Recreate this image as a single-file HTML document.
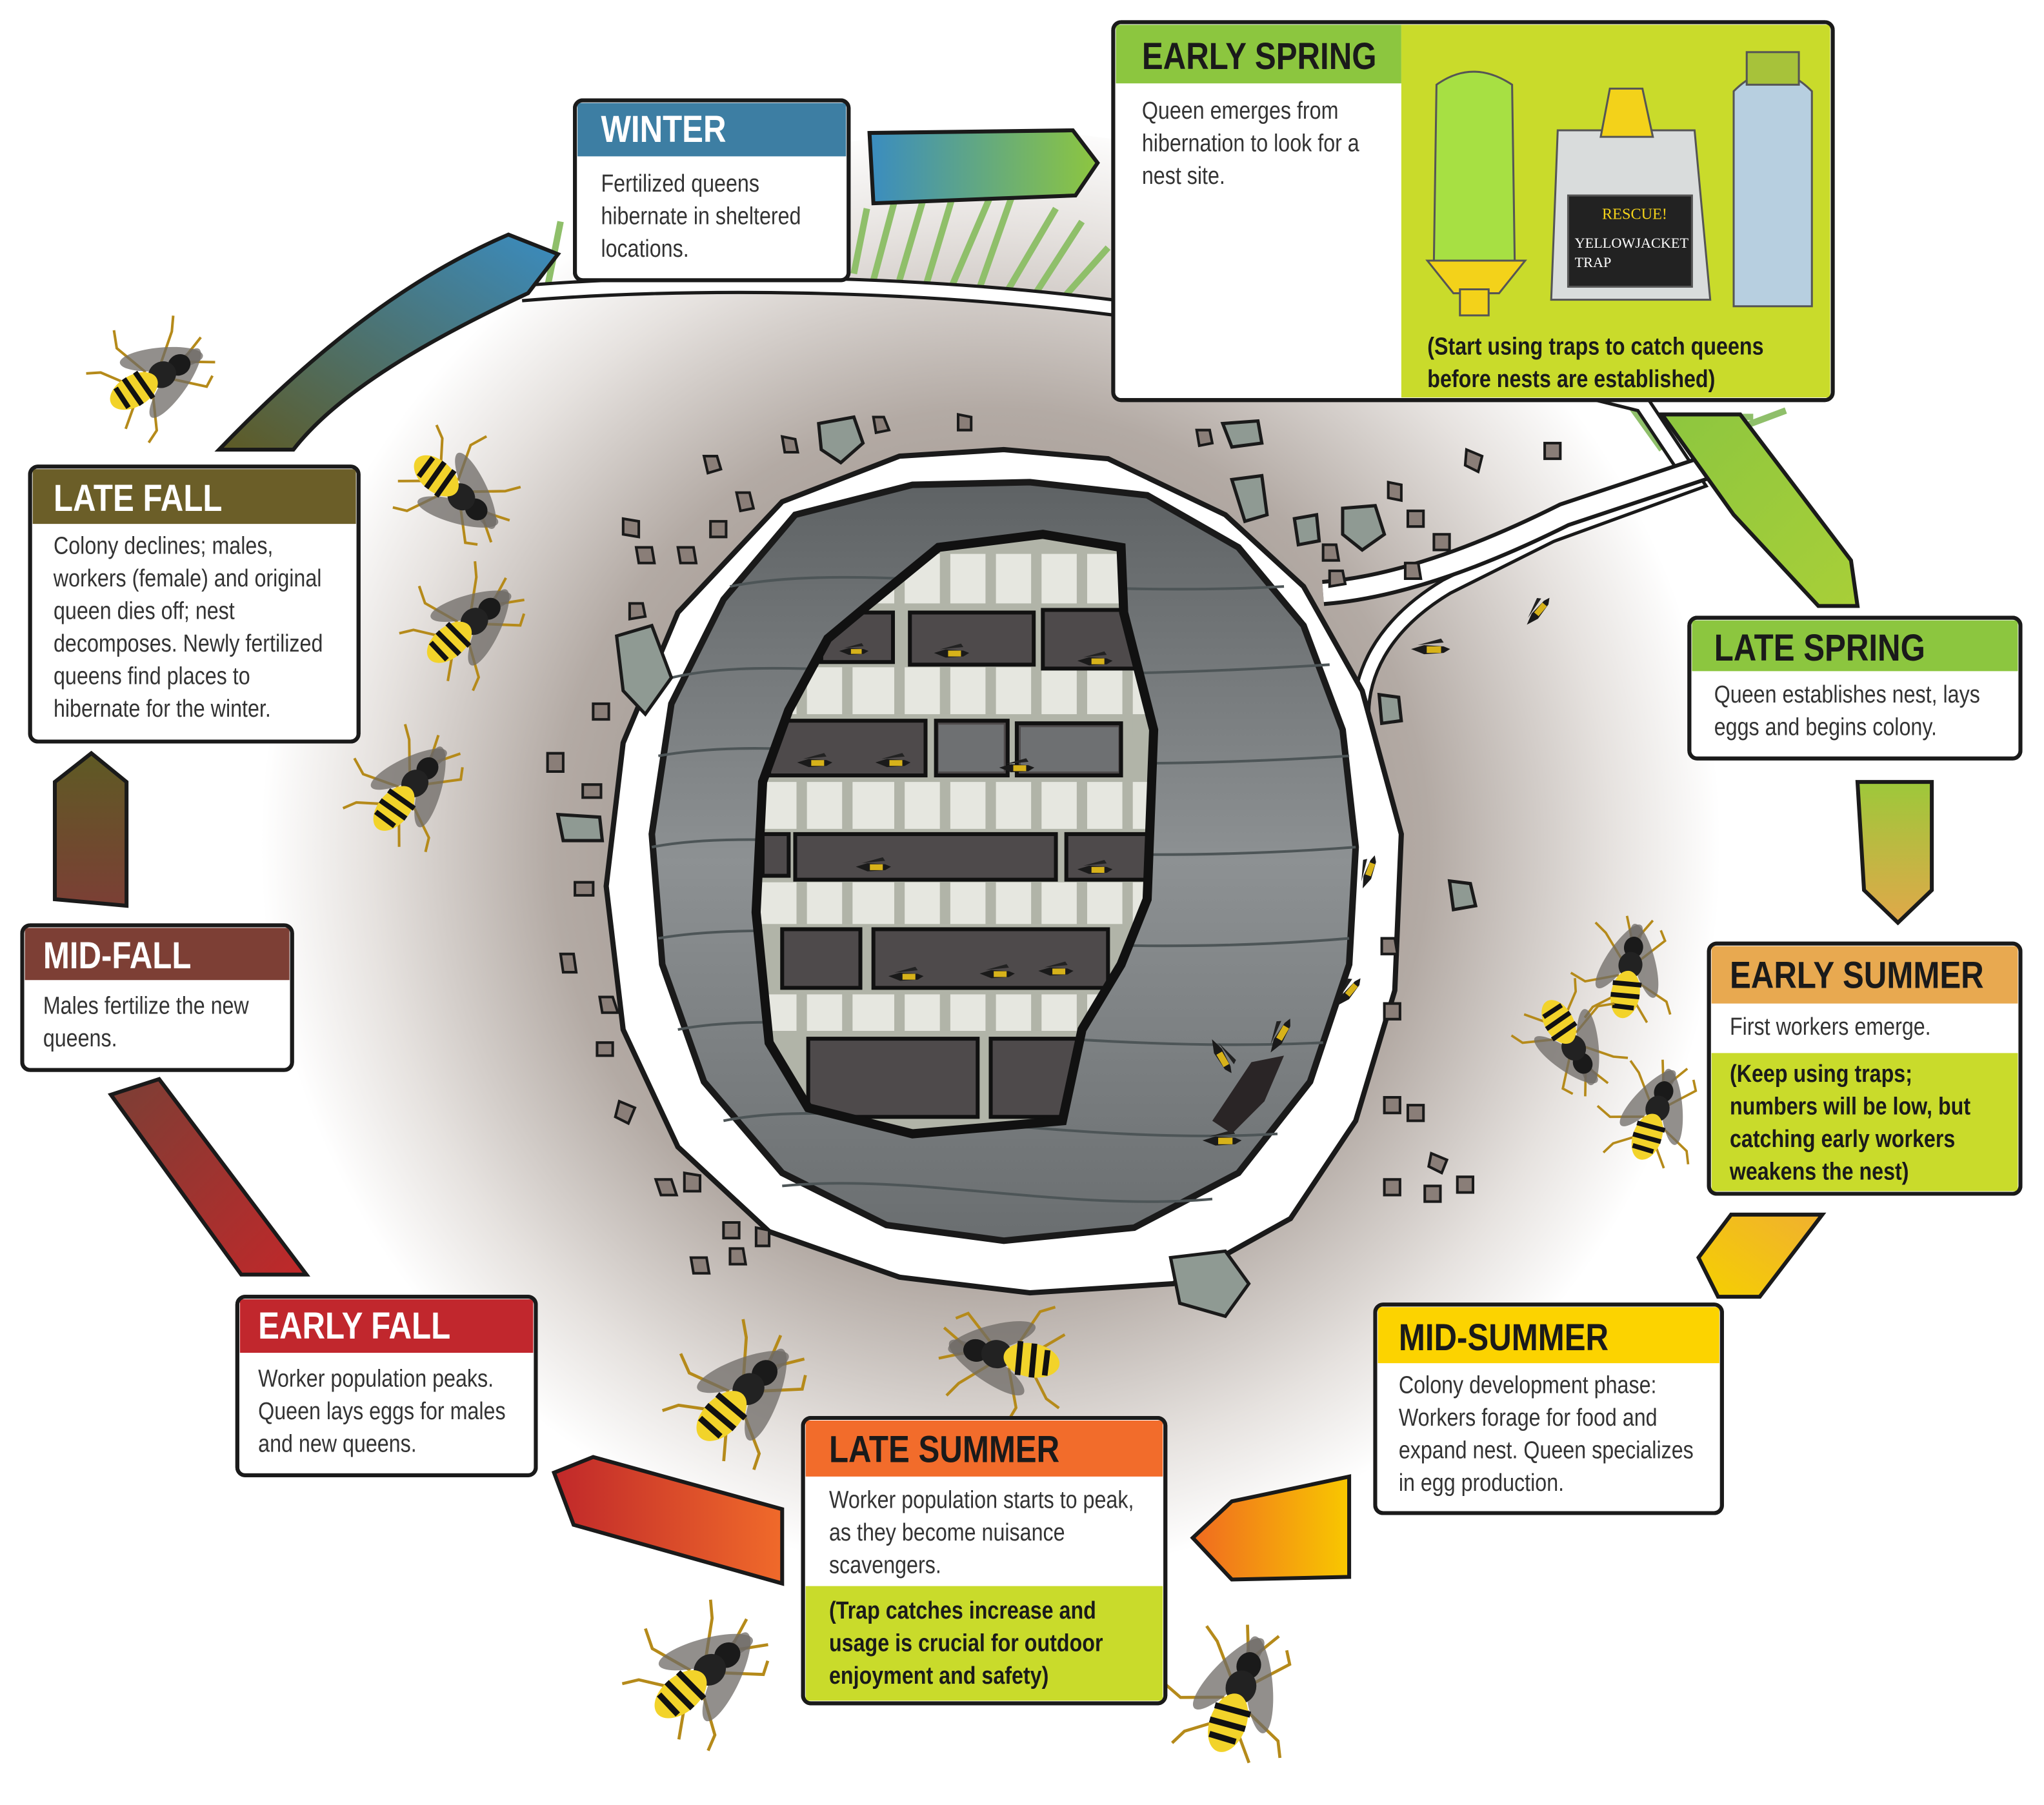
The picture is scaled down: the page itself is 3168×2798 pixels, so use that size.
<!DOCTYPE html>
<html><head><meta charset="utf-8">
<style>
html,body{margin:0;padding:0;background:#fff;}
svg{display:block;}
.h,.hw,.t,.b{transform-box:fill-box;transform-origin:0 50%;transform:scaleX(0.84);}
.h{font-family:"Liberation Sans",sans-serif;font-weight:bold;font-size:29px;fill:#1a1a1a;}
.hw{font-family:"Liberation Sans",sans-serif;font-weight:bold;font-size:29px;fill:#fff;}
.t{font-family:"Liberation Sans",sans-serif;font-size:19px;fill:#333;}
.b{font-family:"Liberation Sans",sans-serif;font-weight:bold;font-size:19px;fill:#1a1a1a;}
</style></head><body>
<svg width="3168" height="2798" viewBox="0 0 1568 1385" xmlns="http://www.w3.org/2000/svg">
<defs>
<radialGradient id="bg" cx="760" cy="650" r="560" gradientUnits="userSpaceOnUse">
<stop offset="0" stop-color="#8a7f78"/><stop offset="0.6" stop-color="#b3aaa4"/><stop offset="0.85" stop-color="#e6e2df"/><stop offset="1" stop-color="#fff"/></radialGradient>
<linearGradient id="nest" x1="0" y1="0" x2="0" y2="1"><stop offset="0" stop-color="#5e6264"/><stop offset="0.5" stop-color="#8d9193"/><stop offset="1" stop-color="#6a6e70"/></linearGradient>
<linearGradient id="g1" x1="0" x2="1"><stop offset="0" stop-color="#3a8cc0"/><stop offset="1" stop-color="#8dc63f"/></linearGradient>
<linearGradient id="g2" x1="0" y1="0" x2="1" y2="1"><stop offset="0" stop-color="#8dc63f"/><stop offset="1" stop-color="#a8cf38"/></linearGradient>
<linearGradient id="g3" x1="0" y1="0" x2="0" y2="1"><stop offset="0" stop-color="#9dc83a"/><stop offset="1" stop-color="#e0a84a"/></linearGradient>
<linearGradient id="g4" x1="1" y1="0" x2="0" y2="1"><stop offset="0" stop-color="#f0b030"/><stop offset="1" stop-color="#f5d000"/></linearGradient>
<linearGradient id="g5" x1="1" x2="0"><stop offset="0" stop-color="#f8c800"/><stop offset="1" stop-color="#f06a20"/></linearGradient>
<linearGradient id="g6" x1="1" x2="0"><stop offset="0" stop-color="#f06a2a"/><stop offset="1" stop-color="#c0282a"/></linearGradient>
<linearGradient id="g7" x1="1" y1="1" x2="0" y2="0"><stop offset="0" stop-color="#c0282a"/><stop offset="1" stop-color="#7b3f35"/></linearGradient>
<linearGradient id="g8" x1="0" y1="1" x2="0" y2="0"><stop offset="0" stop-color="#7b3f35"/><stop offset="1" stop-color="#5e5a24"/></linearGradient>
<linearGradient id="g9" x1="0" y1="1" x2="1" y2="0"><stop offset="0" stop-color="#5e5a24"/><stop offset="1" stop-color="#3a8cc0"/></linearGradient>
<clipPath id="comb"><path d="M720,420 L800,410 L860,420 L862,470 L885,560 L880,690 L860,740 L830,790 L815,860 L700,870 L620,850 L590,800 L580,700 L585,600 L605,545 L635,490 L665,465 Z"/></clipPath>
<symbol id="w" viewBox="-60 -60 120 120">
<g stroke="#b58a1a" stroke-width="2" fill="none"><path d="M-8,-5 L-30,-25 L-38,-20"/><path d="M-5,5 L-28,25 L-35,35"/><path d="M5,8 L15,35 L10,48"/><path d="M8,-8 L20,-35 L30,-40"/><path d="M20,5 L35,25 L45,30"/><path d="M20,-5 L40,-22"/><path d="M-25,0 L-45,-12"/><path d="M-25,2 L-45,10"/></g>
<ellipse cx="-5" cy="-14" rx="32" ry="9" fill="#6e6a66" opacity="0.75" transform="rotate(-25)"/>
<ellipse cx="-5" cy="14" rx="32" ry="9" fill="#6e6a66" opacity="0.75" transform="rotate(25)"/>
<ellipse cx="-20" cy="0" rx="9" ry="8" fill="#1a1a1a"/>
<ellipse cx="-5" cy="0" rx="11" ry="10" fill="#222"/>
<ellipse cx="20" cy="0" rx="20" ry="12" fill="#f2d32a"/>
<g stroke="#111" stroke-width="4"><line x1="10" y1="-12" x2="12" y2="12"/><line x1="20" y1="-12" x2="22" y2="12"/><line x1="30" y1="-9" x2="31" y2="9"/></g>
</symbol>
<symbol id="sw" viewBox="-20 -10 40 20"><path d="M-15,0 L-5,-3 L10,-2 L15,0 L10,3 L-5,4 Z" fill="#1a1a1a"/><path d="M-3,-2 L8,-2 L8,3 L-3,3Z" fill="#d7b21a"/><path d="M-10,-3 L8,-8 L10,-5 Z" fill="#222"/></symbol>
</defs>

<ellipse cx="760" cy="660" rx="610" ry="560" fill="url(#bg)"/>
<g stroke="#8fbf6a" stroke-width="5" fill="none">
<path d="M420,220 L430,170"/><path d="M655,210 L665,160"/><path d="M670,215 L690,140"/><path d="M690,215 L715,130"/><path d="M710,220 L740,120"/><path d="M730,220 L760,150"/><path d="M750,225 L780,140"/><path d="M770,228 L810,160"/><path d="M790,232 L830,170"/><path d="M810,235 L850,190"/><path d="M1250,310 L1275,345"/><path d="M1300,320 L1345,320"/><path d="M1330,330 L1370,315"/></g>
<path d="M400,225 C520,215 700,215 870,238 C1000,250 1100,270 1260,310 L1300,370 L1190,410 L1110,450 C1060,480 1040,520 1045,560" fill="none" stroke="#1a1a1a" stroke-width="14"/>
<path d="M400,225 C520,215 700,215 870,238 C1000,250 1100,270 1260,310 L1300,370 L1190,410 L1110,450 C1060,480 1040,520 1045,560" fill="none" stroke="#fff" stroke-width="9"/>
<path d="M1015,455 C1080,450 1150,420 1200,395 L1320,355" fill="none" stroke="#1a1a1a" stroke-width="20"/>
<path d="M1015,455 C1080,450 1150,420 1200,395 L1320,355" fill="none" stroke="#fff" stroke-width="14"/>
<path d="M600,385 L690,350 L770,345 L850,352 L940,395 L1000,450 L1045,530 L1075,640 L1070,760 L1040,860 L990,935 L900,985 L790,992 L690,980 L590,945 L520,880 L478,790 L465,680 L478,570 L520,470 Z" fill="#fff" stroke="#1a1a1a" stroke-width="4"/>
<path d="M610,395 L700,372 L790,370 L880,380 L950,420 L1000,480 L1030,560 L1040,650 L1035,740 L1005,830 L950,900 L870,942 L770,952 L680,940 L600,900 L540,830 L508,740 L500,640 L515,540 L555,460 Z" fill="url(#nest)" stroke="#1a1a1a" stroke-width="5"/>
<g stroke="#4d5557" stroke-width="2" fill="none">
<path d="M515,520 C600,500 700,530 1020,510"/><path d="M505,580 C620,560 720,600 1035,580"/><path d="M500,650 C600,630 780,670 1040,650"/><path d="M505,720 C620,700 800,740 1035,720"/><path d="M520,790 C620,770 820,810 1015,800"/><path d="M555,860 C650,840 820,880 980,870"/><path d="M600,910 C700,900 820,930 930,920"/><path d="M560,450 C660,430 800,460 985,450"/></g>
<g clip-path="url(#comb)">
<rect x="570" y="400" width="330" height="480" fill="#b1b4a8"/>
<g fill="#e6e7e0"><rect x="580" y="425" width="300" height="38"/><rect x="580" y="512" width="300" height="36"/><rect x="580" y="600" width="300" height="36"/><rect x="580" y="677" width="300" height="32"/><rect x="580" y="763" width="300" height="28"/></g>
<g stroke="#b1b4a8" stroke-width="8"><path d="M615,420 V880 M650,420 V880 M690,420 V880 M725,420 V880 M760,420 V880 M795,420 V880 M830,420 V880 M865,420 V880"/></g>
<g fill="#4e4a4b" stroke="#111" stroke-width="3">
<rect x="630" y="470" width="55" height="38"/><rect x="698" y="470" width="95" height="40"/><rect x="800" y="468" width="80" height="45"/>
<rect x="590" y="553" width="120" height="42"/><rect x="718" y="553" width="55" height="42"/><rect x="780" y="555" width="80" height="40"/>
<rect x="585" y="640" width="20" height="32"/><rect x="610" y="640" width="200" height="35"/><rect x="818" y="640" width="70" height="35"/>
<rect x="600" y="713" width="60" height="45"/><rect x="670" y="713" width="180" height="45"/>
<rect x="620" y="797" width="130" height="60"/><rect x="760" y="797" width="100" height="60"/></g>
<g fill="#6e7072"><rect x="720" y="556" width="50" height="36"/><rect x="783" y="558" width="75" height="34"/></g>
</g>
<path d="M720,420 L800,410 L860,420 L862,470 L885,560 L880,690 L860,740 L830,790 L815,860 L700,870 L620,850 L590,800 L580,700 L585,600 L605,545 L635,490 L665,465 Z" fill="none" stroke="#111" stroke-width="7"/>
<g>
<use href="#sw" x="640" y="492" width="30" height="15"/><use href="#sw" x="710" y="492" width="40" height="18"/><use href="#sw" x="820" y="498" width="40" height="18"/>
<use href="#sw" x="605" y="576" width="40" height="18"/><use href="#sw" x="665" y="576" width="40" height="18"/><use href="#sw" x="760" y="580" width="40" height="18"/>
<use href="#sw" x="650" y="656" width="40" height="18"/><use href="#sw" x="820" y="658" width="40" height="18"/>
<use href="#sw" x="675" y="740" width="40" height="18"/><use href="#sw" x="745" y="738" width="40" height="18"/><use href="#sw" x="790" y="736" width="40" height="18"/>
<use href="#sw" x="1075" y="488" width="45" height="20"/><use href="#sw" x="1160" y="460" width="40" height="18" transform="rotate(-50 1180 469)"/>
<use href="#sw" x="1030" y="660" width="40" height="18" transform="rotate(-70 1050 669)"/><use href="#sw" x="1015" y="752" width="40" height="18" transform="rotate(-50 1035 761)"/>
<use href="#sw" x="915" y="800" width="45" height="20" transform="rotate(60 937 810)"/><use href="#sw" x="960" y="785" width="45" height="20" transform="rotate(-60 982 795)"/><use href="#sw" x="915" y="865" width="45" height="20"/>
</g>
<path d="M930,860 L960,815 L985,810 L970,845 L945,870 Z" fill="#2a2526"/>
<g fill="#8f9a93" stroke="#1a1a1a" stroke-width="2.5">
<path d="M628,325 L655,320 L662,340 L645,355 L630,345Z"/><path d="M945,368 L968,365 L972,395 L955,400Z"/><path d="M1030,390 L1055,388 L1062,410 L1045,422 L1030,410Z"/><path d="M473,488 L500,480 L515,520 L495,548 L478,530Z"/><path d="M898,965 L940,960 L958,985 L940,1010 L905,1000Z"/><path d="M938,325 L965,323 L968,340 L945,343Z"/><path d="M993,398 L1010,395 L1012,415 L996,418Z"/><path d="M428,625 L460,627 L462,645 L432,645Z"/><path d="M1112,676 L1128,678 L1132,695 L1115,698Z"/><path d="M1058,533 L1073,535 L1075,553 L1060,555Z"/>
</g>
<g fill="#8a7e78" stroke="#1a1a1a" stroke-width="2">
<path d="M540,350 l10,0 l3,10 l-10,3Z"/><path d="M565,378 l10,0 l3,12 l-10,2Z"/><path d="M478,398 l12,2 l0,12 l-12,-2Z"/><path d="M488,420 l12,0 l2,12 l-12,0Z"/><path d="M600,335 l10,2 l2,10 l-10,0Z"/><path d="M670,320 l8,0 l4,10 l-10,2Z"/><path d="M735,318 l10,2 l0,10 l-10,0Z"/><path d="M918,330 l10,0 l2,10 l-10,2Z"/><path d="M1125,345 l12,5 l-3,12 l-10,-5Z"/><path d="M1185,340 l12,0 l0,12 l-12,0Z"/><path d="M1065,370 l10,2 l0,12 l-10,-2Z"/><path d="M1080,392 l12,0 l0,12 l-12,0Z"/><path d="M1100,410 l12,0 l0,12 l-12,0Z"/><path d="M1078,432 l10,0 l2,12 l-12,0Z"/><path d="M1015,418 l10,0 l2,12 l-12,0Z"/><path d="M1020,438 l10,0 l2,10 l-12,2Z"/><path d="M455,540 l12,0 l0,12 l-12,0Z"/><path d="M447,602 l14,0 l0,10 l-14,0Z"/><path d="M441,677 l14,0 l0,10 l-14,0Z"/><path d="M430,732 l10,0 l2,14 l-10,0Z"/><path d="M460,765 l10,0 l4,12 l-12,0Z"/><path d="M458,800 l12,0 l0,10 l-12,0Z"/><path d="M475,845 l12,5 l-5,12 l-10,-5Z"/><path d="M503,905 l12,0 l4,12 l-12,0Z"/><path d="M525,900 l12,2 l0,12 l-12,0Z"/><path d="M555,938 l12,0 l0,12 l-12,0Z"/><path d="M580,942 l10,2 l0,12 l-10,0Z"/><path d="M530,965 l12,0 l2,12 l-12,0Z"/><path d="M560,958 l10,0 l2,12 l-12,0Z"/><path d="M1062,842 l12,0 l0,12 l-12,0Z"/><path d="M1080,848 l12,0 l0,12 l-12,0Z"/><path d="M1098,885 l12,5 l-4,10 l-10,-5Z"/><path d="M1062,905 l12,0 l0,12 l-12,0Z"/><path d="M1093,910 l12,0 l0,12 l-12,0Z"/><path d="M1118,903 l12,0 l0,12 l-12,0Z"/><path d="M1062,770 l12,0 l0,12 l-12,0Z"/><path d="M1060,720 l10,0 l2,12 l-12,0Z"/><path d="M420,578 l12,0 l0,14 l-12,0Z"/><path d="M483,463 l10,0 l2,10 l-12,2Z"/><path d="M520,420 l12,0 l2,12 l-12,0Z"/><path d="M545,400 l12,0 l0,12 l-12,0Z"/></g>
<g stroke="#1a1a1a" stroke-width="3">
<path d="M667,102 L823,100 L842,125 L825,150 L670,156 Z" fill="url(#g1)"/>
<path d="M1275,318 L1335,318 L1420,430 L1425,465 L1395,465 L1330,395 Z" fill="url(#g2)"/>
<path d="M1425,600 L1482,600 L1482,683 L1456,708 L1430,683 Z" fill="url(#g3)"/>
<path d="M1328,932 L1398,932 L1350,995 L1318,995 L1303,965 Z" fill="url(#g4)"/>
<path d="M1035,1133 L1035,1210 L945,1212 L915,1180 L945,1152 Z" fill="url(#g5)"/>
<path d="M425,1130 L455,1118 L600,1158 L600,1215 L440,1170 Z" fill="url(#g6)"/>
<path d="M85,840 L122,828 L235,978 L185,978 Z" fill="url(#g7)"/>
<path d="M42,600 L70,578 L97,600 L97,695 L42,690 Z" fill="url(#g8)"/>
<path d="M168,345 C250,260 320,210 390,180 L428,195 L405,225 C330,260 260,300 225,345 Z" fill="url(#g9)"/>
</g>
<use href="#w" x="60" y="230" width="120" height="120" transform="rotate(150 120 290)"/>
<use href="#w" x="290" y="318" width="120" height="120" transform="rotate(220 350 378)"/>
<use href="#w" x="300" y="420" width="120" height="120" transform="rotate(140 360 480)"/>
<use href="#w" x="255" y="545" width="120" height="120" transform="rotate(130 315 605)"/>
<use href="#w" x="890" y="140" width="140" height="140" transform="rotate(120 960 210)"/>
<use href="#w" x="1195" y="690" width="110" height="110" transform="rotate(100 1250 745)"/>
<use href="#w" x="1150" y="745" width="110" height="110" transform="rotate(240 1205 800)"/>
<use href="#w" x="1215" y="800" width="110" height="110" transform="rotate(110 1270 855)"/>
<use href="#w" x="705" y="975" width="130" height="130" transform="rotate(10 770 1040)"/>
<use href="#w" x="500" y="1000" width="140" height="140" transform="rotate(135 570 1070)"/>
<use href="#w" x="470" y="1215" width="140" height="140" transform="rotate(140 540 1285)"/>
<use href="#w" x="880" y="1230" width="140" height="140" transform="rotate(110 950 1300)"/>
<g stroke="#1a1a1a" stroke-width="3">
<rect x="441" y="77" width="210" height="138" rx="6" fill="#fff"/>
<rect x="854" y="17" width="552" height="290" rx="6" fill="#fff"/>
<rect x="1296" y="474" width="254" height="108" rx="6" fill="#fff"/>
<rect x="1311" y="724" width="239" height="192" rx="6" fill="#fff"/>
<rect x="1055" y="1001" width="266" height="160" rx="6" fill="#fff"/>
<rect x="616" y="1088" width="278" height="219" rx="6" fill="#fff"/>
<rect x="182" y="995" width="229" height="137" rx="6" fill="#fff"/>
<rect x="17" y="710" width="207" height="111" rx="6" fill="#fff"/>
<rect x="23" y="358" width="252" height="211" rx="6" fill="#fff"/>
</g>
<g>
<path d="M443,79 H649 V120 H443Z" fill="#3d7ea3"/>
<path d="M856,19 H1075 V64 H856Z" fill="#8cc63f"/>
<path d="M1075,19 H1404 V305 H1075Z" fill="#c9db2b"/>
<path d="M1298,476 H1548 V515 H1298Z" fill="#8cc63f"/>
<path d="M1313,726 H1548 V770 H1313Z" fill="#e8a950"/>
<path d="M1313,808 H1548 V914 H1313Z" fill="#c9db2b"/>
<path d="M1057,1003 H1319 V1046 H1057Z" fill="#fcd300"/>
<path d="M618,1090 H892 V1133 H618Z" fill="#f26c2b"/>
<path d="M618,1217 H892 V1305 H618Z" fill="#c9db2b"/>
<path d="M184,997 H409 V1038 H184Z" fill="#c1272d"/>
<path d="M19,712 H222 V752 H19Z" fill="#7d3f35"/>
<path d="M25,360 H273 V402 H25Z" fill="#6b5e28"/>
</g>
<g stroke="#1a1a1a" stroke-width="3" fill="none">
<rect x="441" y="77" width="210" height="138" rx="6"/><rect x="854" y="17" width="552" height="290" rx="6"/><rect x="1296" y="474" width="254" height="108" rx="6"/><rect x="1311" y="724" width="239" height="192" rx="6"/><rect x="1055" y="1001" width="266" height="160" rx="6"/><rect x="616" y="1088" width="278" height="219" rx="6"/><rect x="182" y="995" width="229" height="137" rx="6"/><rect x="17" y="710" width="207" height="111" rx="6"/><rect x="23" y="358" width="252" height="211" rx="6"/></g>
<g stroke="#555" stroke-width="1.5">
<path d="M1102,65 Q1130,45 1160,65 L1162,200 L1100,200 Z" fill="#a7e043"/>
<path d="M1095,200 H1170 L1150,225 H1115Z" fill="#f3d21a"/><rect x="1120" y="222" width="22" height="20" fill="#f3d21a"/>
<path d="M1195,100 L1300,100 L1312,230 L1190,230 Z" fill="#d9dcdc"/><rect x="1203" y="150" width="95" height="70" fill="#222"/>
<path d="M1235,68 H1260 L1268,105 H1228Z" fill="#f3d21a"/>
<path d="M1330,70 Q1360,40 1390,70 L1390,235 L1330,235 Z" fill="#b7cfe0"/><rect x="1340" y="40" width="40" height="25" fill="#a7c23a"/>
</g>
<text x="1229" y="168" font-family="Liberation Serif,serif" font-size="12" fill="#f3d21a">RESCUE!</text>
<text x="1208" y="190" font-family="Liberation Serif,serif" font-size="11" fill="#fff">YELLOWJACKET</text>
<text x="1208" y="205" font-family="Liberation Serif,serif" font-size="11" fill="#fff">TRAP</text>
<text x="461" y="109" class="hw">WINTER</text>
<text x="461" y="147" class="t">Fertilized queens</text><text x="461" y="172" class="t">hibernate in sheltered</text><text x="461" y="197" class="t">locations.</text>
<text x="876" y="53" class="h">EARLY SPRING</text>
<text x="876" y="91" class="t">Queen emerges from</text><text x="876" y="116" class="t">hibernation to look for a</text><text x="876" y="141" class="t">nest site.</text>
<text x="1095" y="272" class="b">(Start using traps to catch queens</text><text x="1095" y="297" class="b">before nests are established)</text>
<text x="1315" y="507" class="h">LATE SPRING</text>
<text x="1315" y="539" class="t">Queen establishes nest, lays</text><text x="1315" y="564" class="t">eggs and begins colony.</text>
<text x="1327" y="758" class="h">EARLY SUMMER</text>
<text x="1327" y="794" class="t">First workers emerge.</text>
<text x="1327" y="830" class="b">(Keep using traps;</text><text x="1327" y="855" class="b">numbers will be low, but</text><text x="1327" y="880" class="b">catching early workers</text><text x="1327" y="905" class="b">weakens the nest)</text>
<text x="1073" y="1036" class="h">MID-SUMMER</text>
<text x="1073" y="1069" class="t">Colony development phase:</text><text x="1073" y="1094" class="t">Workers forage for food and</text><text x="1073" y="1119" class="t">expand nest. Queen specializes</text><text x="1073" y="1144" class="t">in egg production.</text>
<text x="636" y="1122" class="h">LATE SUMMER</text>
<text x="636" y="1157" class="t">Worker population starts to peak,</text><text x="636" y="1182" class="t">as they become nuisance</text><text x="636" y="1207" class="t">scavengers.</text>
<text x="636" y="1242" class="b">(Trap catches increase and</text><text x="636" y="1267" class="b">usage is crucial for outdoor</text><text x="636" y="1292" class="b">enjoyment and safety)</text>
<text x="198" y="1027" class="hw">EARLY FALL</text>
<text x="198" y="1064" class="t">Worker population peaks.</text><text x="198" y="1089" class="t">Queen lays eggs for males</text><text x="198" y="1114" class="t">and new queens.</text>
<text x="33" y="743" class="hw">MID-FALL</text>
<text x="33" y="778" class="t">Males fertilize the new</text><text x="33" y="803" class="t">queens.</text>
<text x="41" y="392" class="hw">LATE FALL</text>
<text x="41" y="425" class="t">Colony declines; males,</text><text x="41" y="450" class="t">workers (female) and original</text><text x="41" y="475" class="t">queen dies off; nest</text><text x="41" y="500" class="t">decomposes. Newly fertilized</text><text x="41" y="525" class="t">queens find places to</text><text x="41" y="550" class="t">hibernate for the winter.</text>
</svg>
</body></html>
